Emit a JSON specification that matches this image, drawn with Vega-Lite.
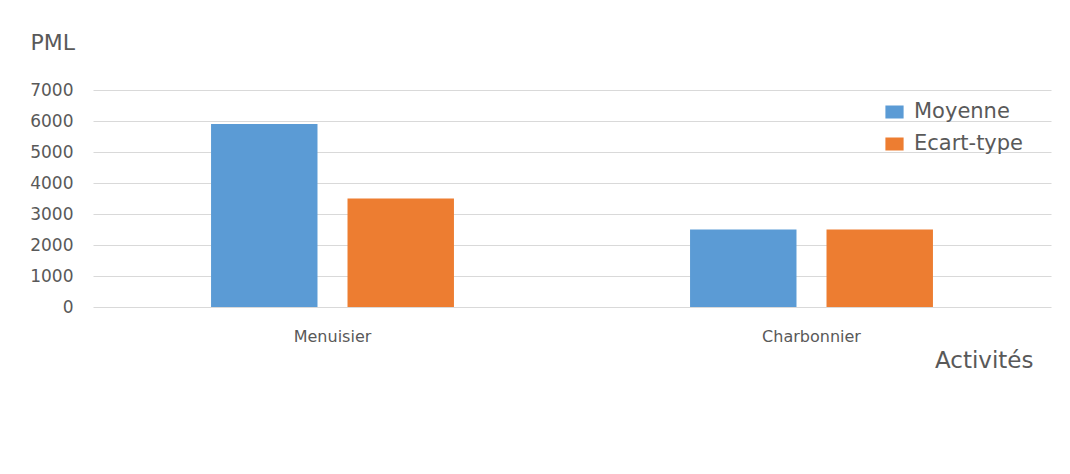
{
  "$schema": "https://vega.github.io/schema/vega-lite/v6.json",
  "autosize": {"type": "none"},
  "width": 958,
  "height": 217,
  "padding": {"left": 93, "top": 90, "right": 19, "bottom": 167},
  "background": "white",
  "config": {
    "view": {"stroke": null},
    "font": "DejaVu Sans"
  },
  "data": {
    "values": [
      {"activite": "Menuisier", "stat": "Moyenne", "valeur": 5900},
      {"activite": "Menuisier", "stat": "Ecart-type", "valeur": 3500},
      {"activite": "Charbonnier", "stat": "Moyenne", "valeur": 2500},
      {"activite": "Charbonnier", "stat": "Ecart-type", "valeur": 2500}
    ]
  },
  "mark": {"type": "bar"},
  "encoding": {
    "x": {
      "field": "activite",
      "type": "nominal",
      "sort": ["Menuisier", "Charbonnier"],
      "scale": {"paddingInner": 0, "paddingOuter": 0},
      "axis": {
        "title": "Activités",
        "titleFont": "DejaVu Sans",
        "titleFontSize": 23,
        "titleFontWeight": "normal",
        "titleColor": "#595959",
        "titleAlign": "right",
        "titleBaseline": "middle",
        "titleX": 940,
        "titleY": 53,
        "labelAngle": 0,
        "labelFont": "DejaVu Sans",
        "labelFontSize": 16,
        "labelColor": "#595959",
        "labelBaseline": "top",
        "labelPadding": 21,
        "ticks": false,
        "tickSize": 0,
        "domain": false,
        "grid": false
      }
    },
    "xOffset": {
      "field": "stat",
      "type": "nominal",
      "sort": ["Moyenne", "Ecart-type"],
      "scale": {"paddingInner": 0.22, "paddingOuter": 0.865}
    },
    "y": {
      "field": "valeur",
      "type": "quantitative",
      "scale": {"domain": [0, 7000], "nice": false},
      "axis": {
        "values": [0, 1000, 2000, 3000, 4000, 5000, 6000, 7000],
        "format": "d",
        "title": "PML",
        "titleAngle": 0,
        "titleAlign": "left",
        "titleBaseline": "middle",
        "titleX": -63,
        "titleY": -48,
        "titleFont": "DejaVu Sans",
        "titleFontSize": 22,
        "titleFontWeight": "normal",
        "titleColor": "#595959",
        "labelFont": "DejaVu Sans",
        "labelFontSize": 17,
        "labelColor": "#595959",
        "labelPadding": 20,
        "ticks": false,
        "tickSize": 0,
        "domain": false,
        "grid": true,
        "gridColor": "#d9d9d9",
        "gridWidth": 1
      }
    },
    "color": {
      "field": "stat",
      "type": "nominal",
      "sort": ["Moyenne", "Ecart-type"],
      "scale": {"domain": ["Moyenne", "Ecart-type"], "range": ["#5B9BD5", "#ED7D31"]},
      "legend": {
        "title": null,
        "orient": "none",
        "legendX": 791,
        "legendY": 11.5,
        "padding": 0,
        "symbolType": "M-1.4,-1H1.4V1H-1.4Z",
        "symbolSize": 169,
        "symbolStrokeWidth": 0,
        "labelFont": "DejaVu Sans",
        "labelFontSize": 21,
        "labelColor": "#595959",
        "labelOffset": 9,
        "rowPadding": 10
      }
    }
  }
}
